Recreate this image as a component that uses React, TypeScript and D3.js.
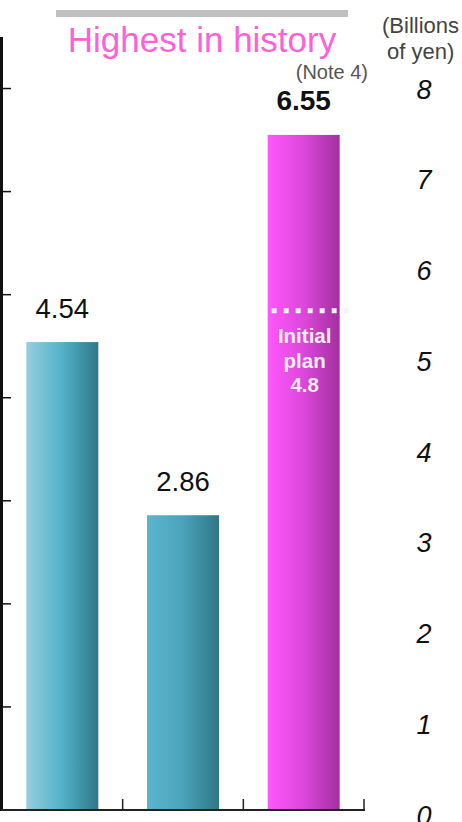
import React from "react";
import * as d3 from "d3";

const categories = ["A", "B", "C"];
const values = [4.54, 2.86, 6.55];
const valueLabels = ["4.54", "2.86", "6.55"];
const leftTicks = [1, 2, 3, 4, 5, 6, 7];
const rightTicks = [0, 1, 2, 3, 4, 5, 6, 7, 8];
const initialPlan = 4.8;
const planLines = ["Initial", "plan", "4.8"];

const W = 462;
const H = 822;

export default function App() {
  const x = d3.scaleBand<string>().domain(categories).range([2, 364]).paddingInner(0).paddingOuter(0);
  const y = d3.scaleLinear().domain([0, 7.5]).range([810, 37]);
  const yR = d3.scaleLinear().domain([0, 8]).range([815, 89]);
  const barW = 72;
  const fills = ["url(#g1)", "url(#g2)", "url(#g3)"];
  const cx = (c: string) => (x(c) as number) + x.bandwidth() / 2;
  const font = "Liberation Sans, Arial, sans-serif";

  return (
    <svg width={W} height={H} style={{ position: "absolute", left: 0, top: 0 }} fontFamily={font}>
      <defs>
        <linearGradient id="g1" x1="0" x2="1" y1="0" y2="0">
          <stop offset="0" stopColor="#95cfdd" />
          <stop offset="0.5" stopColor="#52b1c9" />
          <stop offset="1" stopColor="#2f7787" />
        </linearGradient>
        <linearGradient id="g2" x1="0" x2="1" y1="0" y2="0">
          <stop offset="0" stopColor="#5bb6cd" />
          <stop offset="0.5" stopColor="#4aa3ba" />
          <stop offset="1" stopColor="#2f7787" />
        </linearGradient>
        <linearGradient id="g3" x1="0" x2="1" y1="0" y2="0">
          <stop offset="0" stopColor="#ff57fb" />
          <stop offset="0.5" stopColor="#dd47dc" />
          <stop offset="1" stopColor="#a22f9f" />
        </linearGradient>
      </defs>
      <rect x={0} y={0} width={W} height={H} fill="#fff" />
      {/* gray banner */}
      <rect x={56} y={10} width={292} height={7} fill="#c0c0c0" />
      <text x={202} y={52} textAnchor="middle" fontSize={35} fill="#ff5fd8">Highest in history</text>
      <text x={368} y={79} textAnchor="end" fontSize={20} fill="#555">(Note 4)</text>
      <text x={382} y={33} fontSize={22} fill="#444">(Billions</text>
      <text x={387} y={59} fontSize={22} fill="#444">of yen)</text>

      {/* bars */}
      {categories.map((c, i) => (
        <rect key={c} x={cx(c) - barW / 2} y={y(values[i])} width={barW} height={y(0) - y(values[i])} fill={fills[i]} />
      ))}
      {categories.map((c, i) => (
        <text key={c + "l"} x={cx(c)} y={y(values[i]) - 24.5} textAnchor="middle" fontSize={i === 2 ? 28 : 27.5}
          fontWeight={i === 2 ? "bold" : "normal"} fill="#111">{valueLabels[i]}</text>
      ))}

      {/* initial plan */}
      <line x1={cx("C") - 32} x2={cx("C") + 48} y1={y(initialPlan) - 4.5} y2={y(initialPlan) - 4.5}
        stroke="#f4f4f4" strokeWidth={5} strokeDasharray="5 7" />
      {planLines.map((t, i) => (
        <text key={t} x={cx("C") + 1} y={y(initialPlan) + 28 + i * 24.5} textAnchor="middle" fontSize={20.5}
          fontWeight="bold" fill="#f4eef4">{t}</text>
      ))}

      {/* left axis */}
      <line x1={1.5} x2={1.5} y1={y.range()[1]} y2={811} stroke="#111" strokeWidth={3} />
      {leftTicks.map((t) => (
        <line key={t} x1={2} x2={11} y1={y(t)} y2={y(t)} stroke="#111" strokeWidth={1.5} />
      ))}
      {/* bottom axis */}
      <line x1={1} x2={365} y1={810} y2={810} stroke="#222" strokeWidth={2} />
      {[...categories.slice(1).map((c) => x(c) as number), 364].map((p, i) => (
        <line key={i} x1={p} x2={p} y1={810} y2={799} stroke="#222" strokeWidth={1.5} />
      ))}

      {/* right labels */}
      {rightTicks.map((t) => (
        <text key={t} x={424} y={yR(t)} dy="0.36em" textAnchor="middle" fontSize={27} fontStyle="italic" fill="#111">{t}</text>
      ))}
    </svg>
  );
}
